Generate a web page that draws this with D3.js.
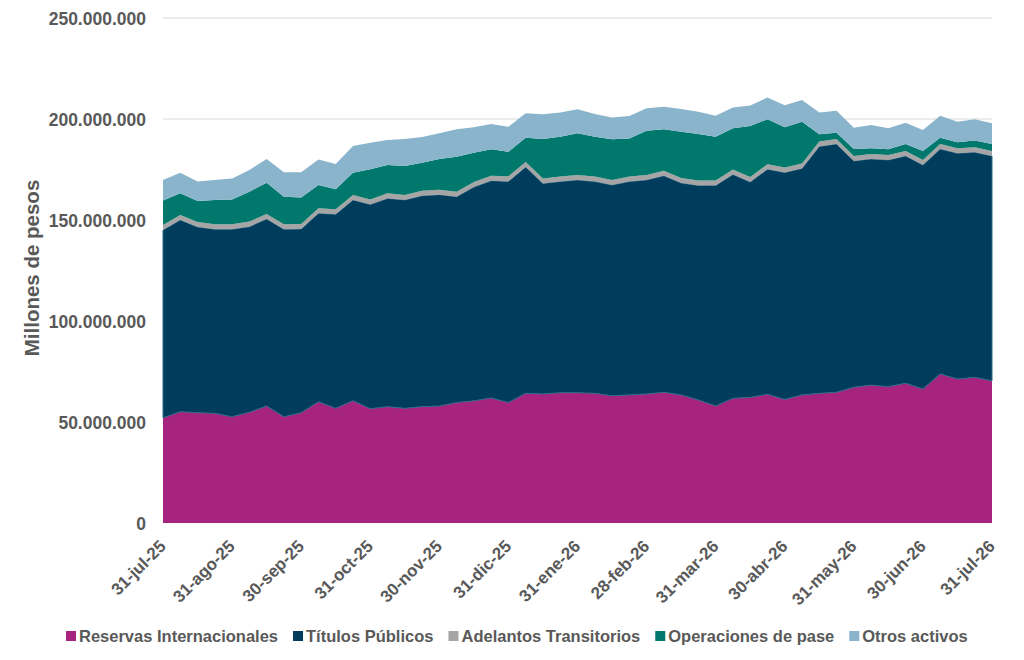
<!DOCTYPE html>
<html><head><meta charset="utf-8">
<script src="https://cdn.jsdelivr.net/npm/d3@7/dist/d3.min.js"></script>
<style>
html,body{margin:0;padding:0;background:#fff;}
svg{display:block;font-family:"Liberation Sans",Arial,sans-serif;}
</style></head>
<body>
<svg id="chart" width="1024" height="660"></svg>
<script>
// Values in millions of pesos, approx. weekly observations (31-jul-25 .. 31-jul-26)
const reservas = [52.1,55.1,54.6,54.3,52.6,54.8,57.9,52.6,54.6,60.0,56.8,60.5,56.6,57.6,56.8,57.6,57.9,59.6,60.5,61.9,59.6,64.2,63.9,64.5,64.5,64.2,63.0,63.4,63.9,64.7,63.4,60.9,57.9,61.7,62.2,63.7,61.2,63.4,64.2,64.7,67.2,68.3,67.5,69.2,66.3,73.8,71.3,72.1,70.4];
const titulos = [92.9,94.9,91.9,91.1,92.8,91.9,92.6,92.8,90.9,93.3,96.0,99.4,101.1,103.1,103.1,104.4,104.6,101.9,105.8,107.5,109.5,112.0,104.2,104.5,105.3,104.8,104.3,105.6,105.9,107.2,104.9,106.2,109.2,110.8,106.6,111.4,112.3,112.1,122.2,122.9,112.0,111.9,112.2,112.5,110.9,111.3,111.7,111.4,111.3];
const adelantos = [2.5,2.5,2.5,2.5,2.5,2.5,2.5,2.5,2.5,2.5,2.5,2.5,2.5,2.5,2.5,2.5,2.5,2.5,2.5,2.5,2.5,2.5,2.5,2.5,2.5,2.5,2.5,2.5,2.5,2.5,2.5,2.5,2.5,2.5,2.5,2.5,2.5,2.5,2.5,2.5,2.5,2.5,2.5,2.5,2.5,2.5,2.5,2.5,2.5];
const pases = [12.1,10.7,10.4,12.0,12.3,14.8,15.5,13.6,13.2,11.5,9.9,11.0,14.9,14.0,14.3,13.9,15.2,17.3,14.5,13.1,12.2,12.0,19.5,19.7,20.6,19.7,20.2,18.9,21.9,20.5,22.9,23.0,21.6,20.4,25.2,22.3,19.9,20.7,3.5,3.1,3.4,2.8,2.8,3.4,4.5,3.1,3.0,3.3,3.4];
const otros = [10.2,10.2,9.6,9.9,10.4,10.8,11.7,12.1,12.4,12.7,12.5,13.2,13.2,12.4,13.4,12.7,12.7,13.6,12.6,12.5,12.4,12.1,12.2,12.0,11.9,11.3,10.8,11.1,11.1,11.2,11.2,11.0,10.4,10.3,10.2,10.7,10.9,10.7,10.8,10.9,10.6,11.5,10.4,10.6,10.4,10.9,10.1,10.6,10.3];
const tickLabels = ["31-jul-25","31-ago-25","30-sep-25","31-oct-25","30-nov-25","31-dic-25","31-ene-26","28-feb-26","31-mar-26","30-abr-26","31-may-26","30-jun-26","31-jul-26"];
const yTicks = [0,50000000,100000000,150000000,200000000,250000000];
const seriesNames = ["Reservas Internacionales","Títulos Públicos","Adelantos Transitorios","Operaciones de pase","Otros activos"];
const seriesColors = ["#A6247E","#003C5C","#A5A5A5","#00786B","#8AB4CB"];

const n = reservas.length;
const rows = d3.range(n).map(i => ({
  i,
  r: reservas[i]*1e6, t: titulos[i]*1e6, a: adelantos[i]*1e6, p: pases[i]*1e6, o: otros[i]*1e6
}));
const keys = ["r","t","a","p","o"];

const svg = d3.select("#chart");
const M = {left:163, right:992, top:18, bottom:523};
const x = d3.scaleLinear().domain([0,n-1]).range([M.left,M.right]);
const y = d3.scaleLinear().domain([0,250000000]).range([M.bottom,M.top]);
const loc = d3.formatLocale({decimal:",",thousands:".",grouping:[3],currency:["$",""]});
const fmt = loc.format(",");
const textColor = "#595959";

// gridlines
svg.append("g").selectAll("line").data(yTicks.slice(1)).join("line")
  .attr("x1",M.left).attr("x2",M.right)
  .attr("y1",d=>y(d)).attr("y2",d=>y(d))
  .attr("stroke","#e6e6e6").attr("stroke-width",1.3);

// y axis labels
const yAxis = d3.axisLeft(y).tickValues(yTicks).tickFormat(fmt).tickSize(0).tickPadding(0);
const gy = svg.append("g").attr("transform",`translate(${M.left-17},0)`).call(yAxis);
gy.select(".domain").remove();
gy.selectAll("text").attr("fill",textColor).attr("font-size","17.5px").attr("font-weight","bold")
  .attr("font-family","Liberation Sans, Arial, sans-serif").attr("dy","0.35em");

// stacked areas
const stack = d3.stack().keys(keys);
const layers = stack(rows);
const area = d3.area().x(d=>x(d.data.i)).y0(d=>y(d[0])).y1(d=>y(d[1]));
svg.append("g").selectAll("path").data(layers).join("path")
  .attr("d",area)
  .attr("fill",(d,k)=>seriesColors[k])
  .attr("stroke",(d,k)=> k===1 ? "#2f6888" : "none")
  .attr("stroke-width",1);

// x axis labels
const tickIdx = tickLabels.map((l,j)=> j*(n-1)/(tickLabels.length-1));
const xAxis = d3.axisBottom(x).tickValues(tickIdx).tickFormat((d,j)=>tickLabels[j]).tickSize(0).tickPadding(0);
const gx = svg.append("g").attr("transform",`translate(0,${M.bottom})`).call(xAxis);
gx.select(".domain").remove();
gx.selectAll("text")
  .attr("fill",textColor).attr("font-size","17px").attr("font-weight","bold")
  .attr("font-family","Liberation Sans, Arial, sans-serif")
  .attr("text-anchor","end")
  .attr("transform","translate(-5,16) rotate(-45)")
  .attr("y",0).attr("dy","0.7em");

// y axis title
svg.append("text")
  .attr("transform",`translate(39,268) rotate(-90)`)
  .attr("text-anchor","middle")
  .attr("fill",textColor).attr("font-size","20.5px").attr("font-weight","bold")
  .text("Millones de pesos");

// legend
const leg = svg.append("g").attr("transform","translate(66,642)");
let cx = 0;
seriesNames.forEach((name,k)=>{
  const g = leg.append("g").attr("transform",`translate(${cx},0)`);
  g.append("rect").attr("x",0).attr("y",-11).attr("width",10).attr("height",10).attr("fill",seriesColors[k]);
  const t = g.append("text").attr("x",13).attr("y",0)
    .attr("fill",textColor).attr("font-size","16.5px").attr("font-weight","bold").text(name);
  cx += 13 + t.node().getComputedTextLength() + 15;
});
</script>
</body></html>
